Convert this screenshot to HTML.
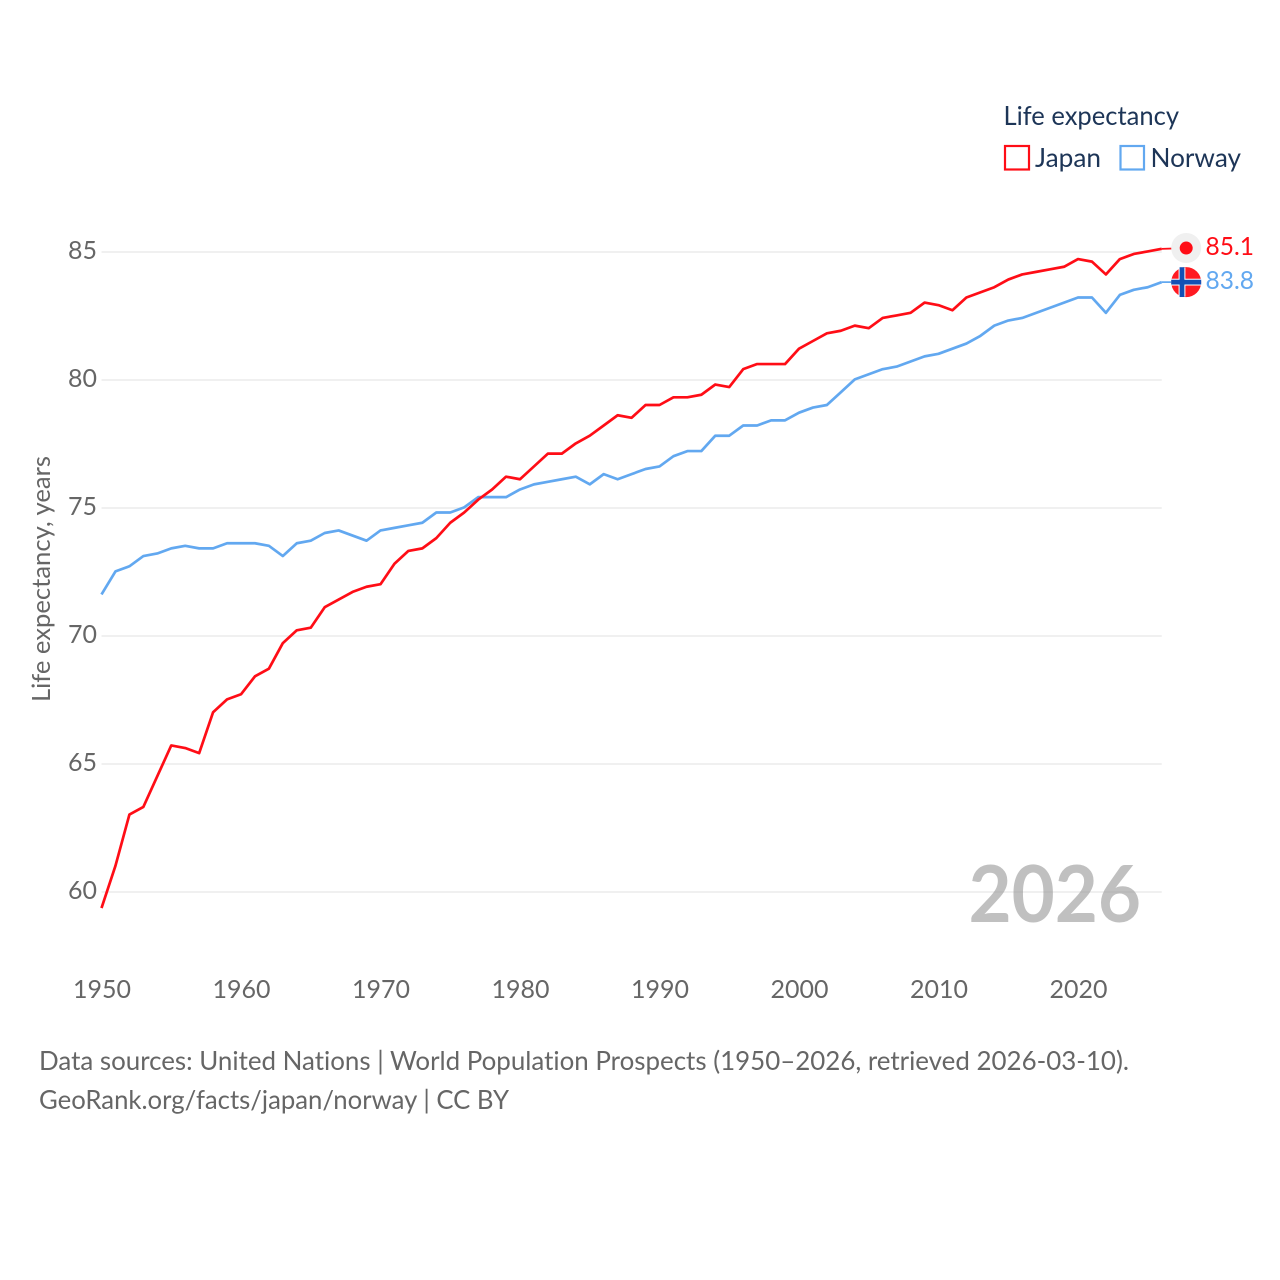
<!DOCTYPE html>
<html lang="en">
<head>
<meta charset="utf-8">
<title>Life expectancy: Japan and Norway</title>
<style>
html,body{margin:0;padding:0;background:#fff;width:1280px;height:1280px;overflow:hidden}
svg{display:block}
text{font-family:"Lato","Carlito","Liberation Sans",sans-serif;font-variant-ligatures:none}
</style>
</head>
<body>
<svg id="chart" xmlns="http://www.w3.org/2000/svg" width="1280" height="1280" viewBox="0 0 1280 1280">
  <g id="grid"></g>
  <g id="yticks"></g>
  <g id="xticks"></g>
  <text transform="translate(50,702) rotate(-90)" font-size="25" fill="#666" textLength="246" lengthAdjust="spacingAndGlyphs">Life expectancy, years</text>
  <text x="968.5" y="922" font-size="79" font-weight="700" fill="#999" fill-opacity="0.62" textLength="172.5" lengthAdjust="spacingAndGlyphs">2026</text>
  <g id="lines"></g>
  <g id="markers"></g>
  <g>
    <text x="1003.5" y="125" font-size="26" fill="#1d3557" textLength="175.5" lengthAdjust="spacingAndGlyphs">Life expectancy</text>
    <rect x="1005" y="146" width="24" height="23.5" fill="#fff" stroke="#ff0d16" stroke-width="2.2"></rect>
    <text x="1035" y="167" font-size="26" fill="#1d3557" textLength="66" lengthAdjust="spacingAndGlyphs">Japan</text>
    <rect x="1120.5" y="146" width="23.5" height="23.5" fill="#fff" stroke="#62a8f0" stroke-width="2.2"></rect>
    <text x="1150.5" y="167" font-size="26" fill="#1d3557" textLength="90.5" lengthAdjust="spacingAndGlyphs">Norway</text>
  </g>
  <g>
    <text x="39" y="1070" font-size="26" fill="#666" textLength="1090" lengthAdjust="spacingAndGlyphs">Data sources: United Nations | World Population Prospects (1950–2026, retrieved 2026-03-10).</text>
    <text x="39" y="1109" font-size="26" fill="#666" textLength="470" lengthAdjust="spacingAndGlyphs">GeoRank.org/facts/japan/norway | CC BY</text>
  </g>
</svg>
<script>
const startYear = 1950;
const xTickValues = [1950, 1960, 1970, 1980, 1990, 2000, 2010, 2020];
const yTickValues = [60, 65, 70, 75, 80, 85];
const japanValues = [59.35, 61.0, 63.0, 63.3, 64.5, 65.7, 65.6, 65.4, 67.0, 67.5,
  67.7, 68.4, 68.7, 69.7, 70.2, 70.3, 71.1, 71.4, 71.7, 71.9,
  72.0, 72.8, 73.3, 73.4, 73.8, 74.4, 74.8, 75.3, 75.7, 76.2,
  76.1, 76.6, 77.1, 77.1, 77.5, 77.8, 78.2, 78.6, 78.5, 79.0,
  79.0, 79.3, 79.3, 79.4, 79.8, 79.7, 80.4, 80.6, 80.6, 80.6,
  81.2, 81.5, 81.8, 81.9, 82.1, 82.0, 82.4, 82.5, 82.6, 83.0,
  82.9, 82.7, 83.2, 83.4, 83.6, 83.9, 84.1, 84.2, 84.3, 84.4,
  84.7, 84.6, 84.1, 84.7, 84.9, 85.0, 85.1];
const norwayValues = [71.6, 72.5, 72.7, 73.1, 73.2, 73.4, 73.5, 73.4, 73.4, 73.6,
  73.6, 73.6, 73.5, 73.1, 73.6, 73.7, 74.0, 74.1, 73.9, 73.7,
  74.1, 74.2, 74.3, 74.4, 74.8, 74.8, 75.0, 75.4, 75.4, 75.4,
  75.7, 75.9, 76.0, 76.1, 76.2, 75.9, 76.3, 76.1, 76.3, 76.5,
  76.6, 77.0, 77.2, 77.2, 77.8, 77.8, 78.2, 78.2, 78.4, 78.4,
  78.7, 78.9, 79.0, 79.5, 80.0, 80.2, 80.4, 80.5, 80.7, 80.9,
  81.0, 81.2, 81.4, 81.7, 82.1, 82.3, 82.4, 82.6, 82.8, 83.0,
  83.2, 83.2, 82.6, 83.3, 83.5, 83.6, 83.8];

const NS = 'http://www.w3.org/2000/svg';
const xScale = function (year) { return 101.5 + (year - 1950) * 13.95; };
const yScale = function (value) { return 892 - (value - 60) * 25.6; };
const make = function (tag, parent, attrs) {
  const el = document.createElementNS(NS, tag);
  Object.keys(attrs).forEach(function (k) { el.setAttribute(k, attrs[k]); });
  parent.appendChild(el);
  return el;
};

const gridGroup = document.getElementById('grid');
const yTickGroup = document.getElementById('yticks');
const xTickGroup = document.getElementById('xticks');
const lineGroup = document.getElementById('lines');
const markerGroup = document.getElementById('markers');
const lastYear = startYear + japanValues.length - 1;

yTickValues.forEach(function (v) {
  const g = make('line', gridGroup, {x1: 101.5, x2: xScale(lastYear), y1: yScale(v), y2: yScale(v), stroke: '#eeeeee', 'stroke-width': 1.8});
  
  
  const t = make('text', yTickGroup, {x: 97, y: yScale(v) + 7, 'text-anchor': 'end', 'font-size': 25, fill: '#666', textLength: 29, lengthAdjust: 'spacingAndGlyphs'});
  t.textContent = String(v);
  
  
});

xTickValues.forEach(function (yr) {
  const t = make('text', xTickGroup, {x: xScale(yr) - 28.5, y: 998, 'font-size': 25, fill: '#666', textLength: 58, lengthAdjust: 'spacingAndGlyphs'});
  t.textContent = String(yr);
  
  
});

const drawLine = function (values, color, name) {
  const pts = values.map(function (v, i) { return xScale(startYear + i).toFixed(2) + ',' + (yScale(v) - 0.6).toFixed(2); });
  const p = make('polyline', lineGroup, {points: pts.join(' '), fill: 'none', stroke: color, 'stroke-width': 2.7, 'stroke-linejoin': 'round'});
  
  
};
drawLine(norwayValues, '#62a8f0', 'line-norway');
drawLine(japanValues, '#ff0d16', 'line-japan');

const japanLast = japanValues[japanValues.length - 1];
const norwayLast = norwayValues[norwayValues.length - 1];
const markerX = xScale(lastYear) + 24.5;
const japanY = yScale(japanLast);
const norwayY = yScale(norwayLast);

const jc = make('line', markerGroup, {x1: xScale(lastYear), y1: japanY - 0.6, x2: markerX, y2: japanY - 1.4, stroke: '#ff0d16', 'stroke-width': 1.8});


const nc = make('line', markerGroup, {x1: xScale(lastYear), y1: norwayY - 0.6, x2: markerX, y2: norwayY - 0.6, stroke: '#62a8f0', 'stroke-width': 1.8});



const jm = make('g', markerGroup, {transform: 'translate(' + markerX + ',' + (japanY - 1.4) + ')'});


make('circle', jm, {r: 15, fill: '#f0f0f0'});
make('circle', jm, {r: 6.5, fill: '#ff0d16'});

const nm = make('g', markerGroup, {transform: 'translate(' + markerX + ',' + (norwayY - 0.6) + ')'});


make('circle', nm, {r: 15, fill: '#ff1a22'});
make('rect', nm, {x: -15, y: -3.4, width: 30, height: 6.8, fill: '#fff'});
make('rect', nm, {x: -7.6, y: -14.5, width: 6.8, height: 29, fill: '#fff'});
make('rect', nm, {x: -15, y: -2.4, width: 30, height: 4.8, fill: '#1450b4'});
make('rect', nm, {x: -6.6, y: -14.9, width: 4.8, height: 29.8, fill: '#1450b4'});

const jl = make('text', markerGroup, {x: 1205.5, y: japanY + 5.6, 'font-size': 25, fill: '#ff0d16', textLength: 48.5, lengthAdjust: 'spacingAndGlyphs'});
jl.textContent = japanLast.toFixed(1);


const nl = make('text', markerGroup, {x: 1205.5, y: norwayY + 6.3, 'font-size': 25, fill: '#62a8f0', textLength: 48.5, lengthAdjust: 'spacingAndGlyphs'});
nl.textContent = norwayLast.toFixed(1);


</script>
</body>
</html>
